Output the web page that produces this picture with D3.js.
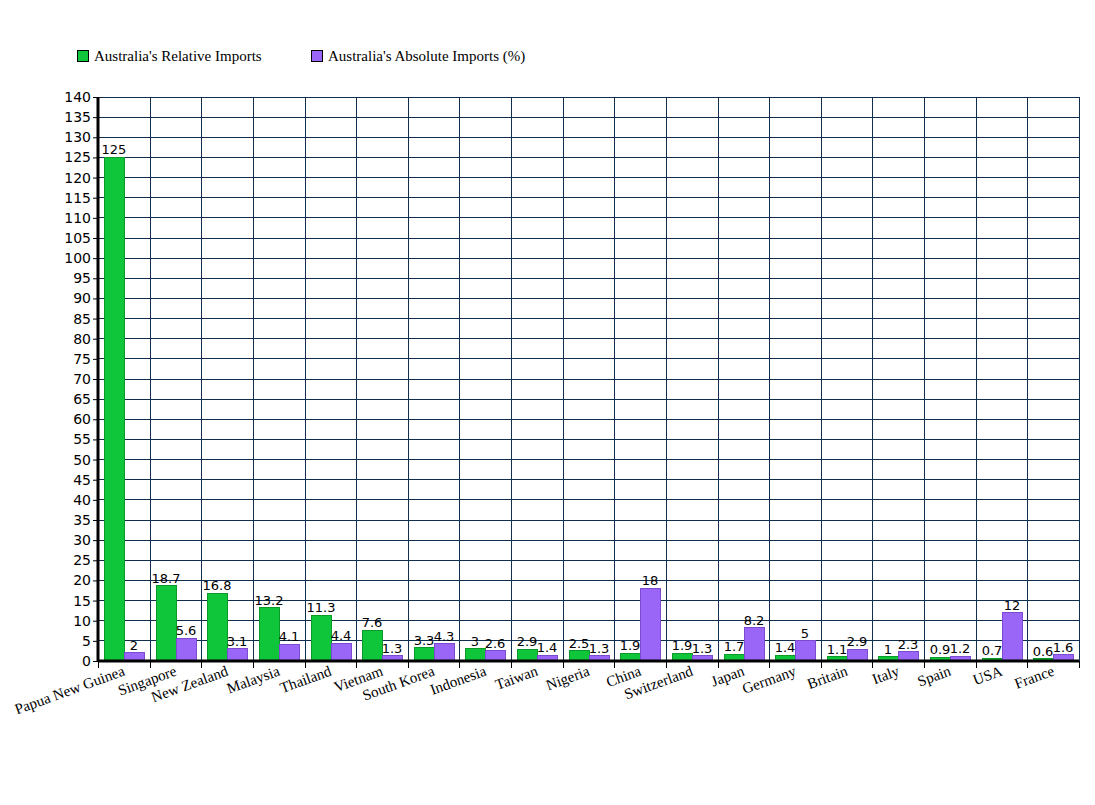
<!DOCTYPE html>
<html><head><meta charset="utf-8">
<script src="https://cdn.jsdelivr.net/npm/d3@7"></script>
<style>body{margin:0;background:#fff}</style>
</head><body>
<svg id="c" width="1095" height="805"></svg>
<script>
const categories = ["Papua New Guinea","Singapore","New Zealand","Malaysia","Thailand","Vietnam","South Korea","Indonesia","Taiwan","Nigeria","China","Switzerland","Japan","Germany","Britain","Italy","Spain","USA","France"];
const relativeImports = [125,18.7,16.8,13.2,11.3,7.6,3.3,3,2.9,2.5,1.9,1.9,1.7,1.4,1.1,1,0.9,0.7,0.6];
const absoluteImports = [2,5.6,3.1,4.1,4.4,1.3,4.3,2.6,1.4,1.3,18,1.3,8.2,5,2.9,2.3,1.2,12,1.6];
const seriesNames = ["Australia's Relative Imports","Australia's Absolute Imports (%)"];
const yTicks = d3.range(0,141,5);

const svg = d3.select("#c");
const L=98,R=1079,T=97,B=661;
const x = d3.scaleBand().domain(categories).range([L,R]).padding(0);
const y = d3.scaleLinear().domain([0,140]).range([B,T]);
const colors = ["#0fc63a","#9966f7"], strokes=["#0a9a2a","#7a4ad0"];
const sans = "Verdana, 'DejaVu Sans', sans-serif";
const serif = "'Liberation Serif', 'Times New Roman', serif";

// grid
const g = svg.append("g");
g.selectAll("line.h").data(yTicks).join("line")
 .attr("x1",L).attr("x2",R).attr("y1",d=>y(d)).attr("y2",d=>y(d))
 .attr("stroke","#0f2e50").attr("stroke-width",1).attr("shape-rendering","crispEdges");
const vx = categories.map(c=>x(c)).concat([R]);
g.selectAll("line.v").data(vx).join("line")
 .attr("x1",d=>Math.round(d)).attr("x2",d=>Math.round(d)).attr("y1",T).attr("y2",B)
 .attr("stroke","#0f2e50").attr("stroke-width",1).attr("shape-rendering","crispEdges");

// bars
const bw = 20, off = 6;
const groups = svg.append("g").selectAll("g").data(categories).join("g");
[relativeImports, absoluteImports].forEach((vals,si)=>{
  svg.append("g").selectAll("rect").data(categories).join("rect")
   .attr("x",(c)=>Math.round(x(c))+off+si*bw)
   .attr("y",(c,i)=>y(vals[i]))
   .attr("width",bw).attr("height",(c,i)=>B-y(vals[i]))
   .attr("fill",colors[si]).attr("stroke",strokes[si]).attr("stroke-width",1)
   .attr("shape-rendering","crispEdges");
  svg.append("g").selectAll("text").data(categories).join("text")
   .attr("x",(c)=>Math.round(x(c))+off+si*bw+bw/2)
   .attr("y",(c,i)=>y(vals[i])-3)
   .attr("text-anchor","middle").attr("font-family",sans).attr("font-size",13)
   .text((c,i)=>vals[i]);
});

// axes
const ya = d3.axisLeft(y).tickValues(yTicks).tickSize(5).tickPadding(2);
const yg = svg.append("g").attr("transform",`translate(${L},0)`).call(ya);
yg.select(".domain").attr("stroke","#000").attr("stroke-width",3).attr("d",`M0,${T}V${B}`);
yg.selectAll(".tick line").attr("stroke","#000");
yg.selectAll("text").attr("font-family",sans).attr("font-size",14).attr("fill","#000");

const xa = d3.axisBottom(x).tickSize(6).tickFormat("");
const xg = svg.append("g").attr("transform",`translate(0,${B})`).call(xa);
xg.select(".domain").attr("stroke","#000").attr("stroke-width",3).attr("d",`M${L},0H${R}`);
xg.selectAll(".tick").remove();
xg.selectAll("line.t").data(vx).join("line").attr("x1",d=>Math.round(d)+0.5).attr("x2",d=>Math.round(d)+0.5)
 .attr("y1",0).attr("y2",7).attr("stroke","#000");
xg.selectAll("text.lbl").data(categories).join("text")
 .attr("transform",c=>`translate(${x(c)+x.bandwidth()/2+2},14) rotate(-20)`)
 .attr("text-anchor","end").attr("font-family",serif).attr("font-size",15).attr("fill","#000")
 .text(c=>c);

// legend
const leg = svg.append("g");
const lx=[77,311];
seriesNames.forEach((n,i)=>{
  leg.append("rect").attr("x",lx[i]+0.5).attr("y",50.5).attr("width",11).attr("height",11)
   .attr("fill",colors[i]).attr("stroke","#000");
  leg.append("text").attr("x",lx[i]+17).attr("y",61).attr("font-family",serif).attr("font-size",15).text(n);
});
</script>
</body></html>
